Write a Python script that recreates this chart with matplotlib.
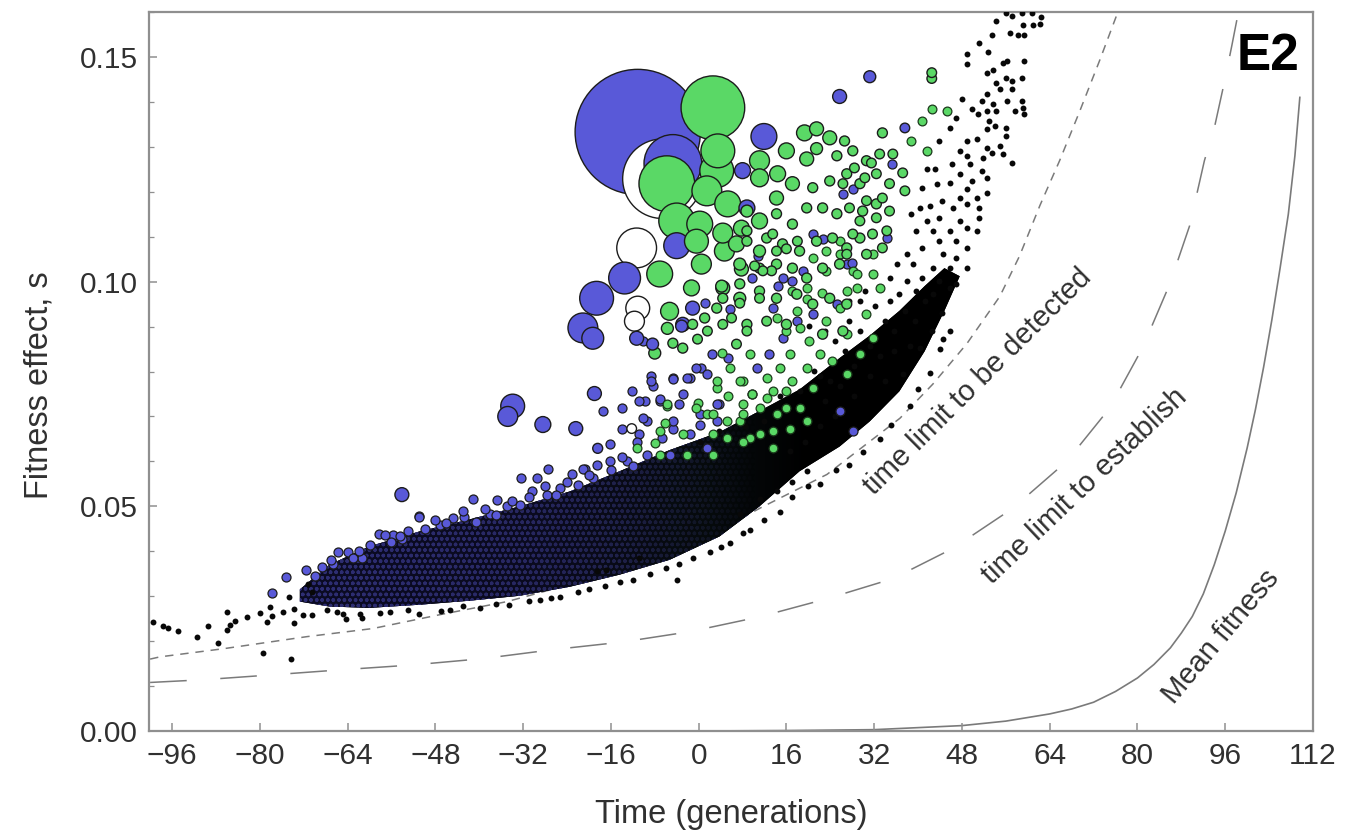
import numpy as np
import matplotlib
matplotlib.use("Agg")
import matplotlib.pyplot as plt

plt.rcParams['font.family'] = ['Liberation Sans', 'DejaVu Sans']
plt.rcParams['hatch.linewidth'] = 1.0

# ---------------- axes ----------------
x_ticks = [-96, -80, -64, -48, -32, -16, 0, 16, 32, 48, 64, 80, 96, 112]
y_ticks = [0.00, 0.05, 0.10, 0.15]
y_tick_labels = ["0.00", "0.05", "0.10", "0.15"]

# ---------------- theory curves (time, fitness effect) ----------------
detect_t = [-100.0, -98.2, -86.7, -71.4, -59.4, -47.1, -34.9, -22.9, -13.1, -1.1, 11.2, 23.4,
            36.7, 42.7, 48.9, 54.9, 58.5, 62.2, 65.8, 69.5, 73.1, 76.4]
detect_s = [0.0160, 0.0165, 0.0183, 0.0210, 0.0228, 0.0259, 0.0288, 0.0328, 0.0355, 0.0415, 0.0496, 0.0571,
            0.0696, 0.0772, 0.0862, 0.0967, 0.1057, 0.1169, 0.1269, 0.1380, 0.1492, 0.1599]

establish_t = [-100.0, -90.4, -77.7, -65.4, -52.1, -39.4, -26.6, -13.9, -1.6, 11.1, 23.3, 35.4,
               46.3, 57.2, 67.1, 74.9, 80.9, 85.9, 89.5, 92.2, 94.1, 95.9, 97.2, 98.4]
establish_s = [0.0108, 0.0114, 0.0125, 0.0136, 0.0147, 0.0161, 0.0181, 0.0198, 0.0221, 0.0254, 0.0294, 0.0339,
               0.0406, 0.0495, 0.0600, 0.0718, 0.0852, 0.0995, 0.1124, 0.1269, 0.1347, 0.1447, 0.1525, 0.1600]

meanfit_t = [0, 16, 32, 48, 56, 64, 68, 72, 76, 80, 83, 86, 88, 90, 92, 94, 96, 98, 100, 101.5, 103,
             104.5, 106, 107.5, 108.7, 109.6]
meanfit_s = [0.0, 0.0001, 0.0003, 0.0012, 0.0022, 0.0038, 0.0049, 0.0064, 0.0088, 0.0118, 0.0148, 0.0185,
             0.0218, 0.0255, 0.0305, 0.0370, 0.0445, 0.0530, 0.0630, 0.0715, 0.0810, 0.0915, 0.1030,
             0.1150, 0.1280, 0.1410]

# ---------------- dense core of the mutation cloud ----------------
core_t = [-72.7, -67.3, -60.0, -50.9, -41.7, -32.6, -23.5, -14.4, -5.3, 3.8, 11.1, 18.4,
          25.7, 31.2, 36.6, 41.2, 44.8, 47.6]
core_lo = [0.0288, 0.0277, 0.0274, 0.0281, 0.0290, 0.0301, 0.0321, 0.0348, 0.0381, 0.0433, 0.0500, 0.0578,
           0.0633, 0.0689, 0.0756, 0.0845, 0.0935, 0.1012]
core_hi = [0.0315, 0.0370, 0.0411, 0.0444, 0.0471, 0.0500, 0.0533, 0.0578, 0.0625, 0.0665, 0.0712, 0.0760,
           0.0830, 0.0880, 0.0935, 0.0990, 0.1030, 0.1012]

# ---------------- lineages: (time, s, size) ----------------
blue_lineages = [
    (-11.1, 0.1333, 3969), (-4.7, 0.1263, 841), (11.9, 0.1323, 169), (25.7, 0.1412, 49),
    (31.2, 0.1456, 36), (-4.0, 0.1080, 169), (-13.5, 0.1008, 256), (-18.6, 0.0963, 289),
    (-21.1, 0.0897, 225), (-19.3, 0.0874, 121), (-33.9, 0.0723, 144), (-34.8, 0.0700, 100),
    (-28.4, 0.0682, 64), (-22.4, 0.0673, 49), (-54.1, 0.0526, 49), (-19.0, 0.0751, 49),
    (-18.4, 0.0629, 25), (8.0, 0.1247, 64), (8.8, 0.1164, 64), (-11.3, 0.0874, 49),
    (-2.9, 0.0905, 49), (-1.1, 0.0941, 49), (-3.1, 0.0901, 36), (-8.4, 0.0861, 36),
    (37.6, 0.1342, 16),
]

blue_small_t = [10.8, 9.8, -10.2, 1.1, 5.7, 14.4, 15.3, 17.1, 19.0, 20.8, 22.6, 13.5, -8.6, -8.4, -4.7,
                -1.6, 0.5, 2.4, 5.3, -9.8, -7.1, -2.9, 0.2, 3.8, -9.5, -4.7, -1.6, 3.3, 9.8, 10.6,
                12.9, 15.3, 17.9, 20.8, 25.2, 27.0, 25.7, 28.1, -10.8,
                -75.3, -71.5, -68.7, -65.8, -64.0, -61.3, -58.2, -55.8, -54.1, -51.0, -49.9, -47.2,
                -44.8, -42.7, -40.5, -38.1, -35.0, -32.6, -30.3, -27.7, -25.3, -23.0, -20.8, -18.6,
                -19.3, -36.8, -41.2, -32.3, -29.5, -27.5, -50.9, -57.2, -54.5, -63.1, -66.7, -77.8,
                -17.5, -12.2, -13.9, -10.8, -8.6, -7.1, -4.7, -2.2, -13.9, -10.2, -21.1, -16.2,
                -11.3, -6.6, -9.5, -13.1, -16.2, -4.7, -3.5, -0.4, 1.5, 3.3, 0.2, -5.3, 1.5,
                35.2, 26.3, 28.1, 27.9, 34.3,
                -70.0, -67.0, -62.0, -60.0, -56.0, -53.0, -48.0, -46.0, -43.0, -39.0, -37.0, -34.0,
                -31.0, -28.0, -26.0, -24.0, -22.0, -20.0, -16.0, -14.0, -12.0]
blue_small_s = [0.1057, 0.1008, 0.0867, 0.0952, 0.0939, 0.0990, 0.1008, 0.1001, 0.1024, 0.1106, 0.1095,
                0.0941, 0.0789, 0.0767, 0.0785, 0.0785, 0.0807, 0.0838, 0.0830, 0.0734, 0.0734, 0.0749,
                0.0705, 0.0727, 0.0689, 0.0673, 0.0660, 0.0689, 0.0749, 0.0807, 0.0838, 0.0874, 0.0912,
                0.0928, 0.0950, 0.1039, 0.0711, 0.0667, 0.0660,
                0.0343, 0.0359, 0.0366, 0.0399, 0.0399, 0.0384, 0.0439, 0.0437, 0.0428, 0.0479, 0.0450,
                0.0459, 0.0473, 0.0477, 0.0466, 0.0482, 0.0500, 0.0504, 0.0533, 0.0526, 0.0540, 0.0571,
                0.0584, 0.0593, 0.0562, 0.0515, 0.0517, 0.0562, 0.0562, 0.0584, 0.0477, 0.0437, 0.0433,
                0.0384, 0.0372, 0.0306,
                0.0711, 0.0756, 0.0718, 0.0734, 0.0778, 0.0738, 0.0783, 0.0785, 0.0673, 0.0696, 0.0584,
                0.0638, 0.0644, 0.0651, 0.0615, 0.0600, 0.0600, 0.0689, 0.0727, 0.0807, 0.0794, 0.0727,
                0.0682, 0.0615, 0.0629,
                0.1262, 0.1195, 0.1206, 0.1041, 0.1097,
                0.0345, 0.0380, 0.0400, 0.0415, 0.0420, 0.0445, 0.0470, 0.0462, 0.0490, 0.0495, 0.0480,
                0.0512, 0.0520, 0.0545, 0.0525, 0.0555, 0.0548, 0.0570, 0.0580, 0.0610, 0.0590]

green_lineages = [
    (2.6, 0.1387, 1024), (-5.8, 0.1218, 784), (3.5, 0.1291, 289), (3.3, 0.1247, 289),
    (1.5, 0.1202, 225), (5.3, 0.1173, 169), (-4.0, 0.1135, 324), (0.2, 0.1128, 169),
    (4.4, 0.1108, 100), (-0.4, 0.1090, 144), (4.7, 0.1068, 100), (0.5, 0.1039, 100),
    (-7.1, 0.1017, 169), (-1.3, 0.0986, 64), (4.4, 0.0986, 49), (-5.3, 0.0934, 81),
    (7.8, 0.1028, 49), (7.5, 0.0963, 36), (7.8, 0.1119, 64), (11.1, 0.1135, 64),
    (11.1, 0.1269, 100), (11.1, 0.1231, 81), (14.4, 0.1240, 64), (16.0, 0.1291, 64),
    (19.3, 0.1331, 64), (21.5, 0.1340, 49), (19.7, 0.1273, 49), (23.9, 0.1320, 49),
    (26.6, 0.1313, 25), (21.5, 0.1296, 36), (25.2, 0.1280, 25), (14.2, 0.1186, 49),
    (8.8, 0.1157, 36), (17.1, 0.1218, 49), (14.2, 0.1151, 25), (12.4, 0.1097, 25),
    (17.1, 0.1128, 25), (19.7, 0.1164, 25), (20.8, 0.1209, 25), (11.1, 0.1068, 36),
    (6.9, 0.1084, 64),
    (4.2, 0.0990, 36), (7.5, 0.1039, 36), (7.5, 0.0995, 25), (4.4, 0.0963, 25),
    (3.3, 0.0941, 25), (1.1, 0.0919, 25), (-1.1, 0.0905, 25), (-5.7, 0.0896, 36),
    (-8.0, 0.0841, 36), (-4.7, 0.0863, 25), (-2.9, 0.0852, 25), (-0.2, 0.0872, 16),
    (1.6, 0.0890, 16), (4.4, 0.0905, 16), (6.0, 0.0919, 16), (7.5, 0.0952, 16),
    (10.2, 0.1035, 16), (11.7, 0.1024, 16), (13.3, 0.1024, 16), (14.2, 0.1068, 16),
    (16.0, 0.1073, 16), (18.0, 0.1090, 9), (13.5, 0.1106, 16), (8.8, 0.1090, 25),
    (8.8, 0.1113, 25), (11.1, 0.0963, 16), (12.4, 0.0912, 16), (8.8, 0.0890, 16),
    (6.9, 0.0861, 16),
    (42.5, 0.1465, 16), (42.5, 0.1452, 16), (33.5, 0.1331, 25), (33.0, 0.1284, 16),
    (35.4, 0.1284, 16), (31.5, 0.1264, 16), (28.4, 0.1253, 16), (26.3, 0.1218, 16),
    (30.3, 0.1231, 16), (32.4, 0.1240, 16), (34.8, 0.1218, 16), (37.2, 0.1242, 16),
    (37.6, 0.1202, 16), (33.5, 0.1186, 16), (30.6, 0.1180, 16), (27.5, 0.1164, 16),
    (29.4, 0.1135, 16), (32.4, 0.1142, 16), (34.8, 0.1157, 16), (28.1, 0.1106, 16),
    (31.7, 0.1106, 16), (34.3, 0.1113, 16), (27.0, 0.1061, 16), (30.6, 0.1061, 16),
    (33.5, 0.1075, 16),
    (28.1, 0.1291, 25), (30.6, 0.1269, 25), (23.9, 0.1224, 25), (27.0, 0.1240, 25),
    (29.4, 0.1218, 25), (22.6, 0.1164, 25), (25.2, 0.1151, 25), (29.9, 0.1157, 25),
    (32.4, 0.1173, 25), (15.3, 0.1084, 25), (18.4, 0.1068, 25), (21.5, 0.1090, 25),
    (24.4, 0.1097, 25), (27.0, 0.1075, 25), (29.4, 0.1097, 25), (11.1, 0.1030, 25),
    (14.2, 0.1039, 25), (17.1, 0.1030, 25), (19.7, 0.1008, 25), (22.6, 0.1030, 25),
    (25.7, 0.1039, 25), (11.1, 0.0979, 25), (14.2, 0.0963, 25), (17.9, 0.0972, 25),
    (20.8, 0.0950, 25), (23.9, 0.0963, 25), (27.0, 0.0950, 25), (8.8, 0.0905, 25),
    (16.0, 0.0905, 25), (22.6, 0.0883, 25), (26.3, 0.0890, 25),
]

green_small_t = [9.3, 4.2, 5.7, 8.0, 3.3, -0.2, 5.3, 1.5, -5.8, -6.2, -8.0, -2.9, 2.6, 7.5, 8.0, 11.1,
                 13.5, 12.4, 14.8, 16.6, 16.0, 18.4, 20.2, 14.2, 17.9, 19.7, 17.0, 19.7, 22.4, 23.3,
                 20.8, 23.3, 25.7, 25.7, 28.1, 28.8, 25.7, 23.3, 27.0, 22.1, 24.4, 19.7, 17.1, 20.8,
                 16.0, 19.7, 13.5, 9.3, 31.7, 33.0, 30.6, 31.7, 29.4, 27.0, 40.7, 45.2, 41.6, 38.8,
                 42.5, 28.8, 31.7, 27.0,
                 -5.8, -7.1, -0.4, 2.6, 5.1, 8.0, 7.5, 9.8, 3.3, -11.3, -7.1, -2.2, 2.6, 8.0, 5.1,
                 11.1, 14.2, 12.4, 16.0, 18.4, 16.6, 13.5]
green_small_s = [0.0838, 0.0841, 0.0807, 0.0778, 0.0763, 0.0729, 0.0745, 0.0705, 0.0723, 0.0685, 0.0640,
                 0.0660, 0.0660, 0.0689, 0.0727, 0.0718, 0.0756, 0.0785, 0.0807, 0.0838, 0.0890, 0.0896,
                 0.0867, 0.0919, 0.0934, 0.0961, 0.0979, 0.0986, 0.0975, 0.1024, 0.1053, 0.1068, 0.1090,
                 0.1061, 0.1024, 0.0986, 0.0941, 0.0912, 0.0883, 0.0838, 0.0823, 0.0807, 0.0778, 0.0763,
                 0.0718, 0.0689, 0.0667, 0.0651, 0.1061, 0.0986, 0.0928, 0.0874, 0.0838, 0.0794, 0.1358,
                 0.1380, 0.1291, 0.1313, 0.1385, 0.1017, 0.1017, 0.0979,
                 0.0727, 0.0667, 0.0718, 0.0705, 0.0689, 0.0705, 0.0778, 0.0749, 0.0778, 0.0629, 0.0615,
                 0.0615, 0.0615, 0.0644, 0.0651, 0.0660, 0.0705, 0.0740, 0.0756, 0.0718, 0.0673, 0.0629]

white_lineages = [
    (-6.6, 0.1229, 1600), (-11.3, 0.1075, 400), (-11.1, 0.0941, 144), (-11.7, 0.0912, 100),
    (-12.2, 0.0673, 9),
]

black_t = [54.3, 56.1, 57.2, 58.9, 60.7, 62.5, 59.1, 60.9, 62.2, 56.7, 58.2, 59.4, 53.4, 51.2, 52.7, 48.9,
           48.9, 55.4, 56.3, 59.4, 52.5, 53.6, 54.3, 56.1, 57.2, 58.9, 54.9, 57.2, 52.5, 48.1, 51.6, 53.6,
           56.3, 58.9, 59.1, 57.6, 49.9, 52.5, 54.3, 50.9, 47.0, 59.4, 53.0, 54.0, 45.8, 56.1, 52.5, 43.9,
           48.9, 50.7, 56.1, 52.5, 54.9, 53.4, 47.6, 55.4, 57.2, 48.9, 51.8, 46.1, 49.4, 51.6, 41.6, 43.0,
           47.6, 49.9, 52.5, 45.8, 43.4, 40.8, 52.5, 48.9, 47.6, 50.7, 44.3, 42.1, 40.3, 38.8, 46.3, 48.9,
           51.2, 51.2, 47.6, 43.9, 41.6, 39.7, 42.7, 45.8, 48.9, 50.7, 43.9, 47.0, 48.9, 40.8, 37.9, 44.5,
           47.0, 42.7, 39.0, 36.1, 45.8, 48.9, 40.8, 43.9, 37.9, 34.8, 47.0, 45.8, 39.7, 42.7, 36.6,
           44.3, 42.5, 44.5, 40.3, 37.2,
           29.4, 32.1, 34.8, 33.9, 35.7, 31.2, 33.0, 35.7, 28.4, 31.2, 33.9, 25.7, 28.4, 23.0, 24.8, 22.1,
           19.3, 16.6, 27.5, 24.8, 22.1, 30.3, 37.6, 39.4, 38.5, 41.2,
           0.2, 3.8, 8.4, 12.0, 14.8, 18.4, 21.1, 23.9, 26.6, 23.0, 20.2, 29.4, 27.5,
           -4.0, -10.8, 7.5, 11.1, 14.2, 17.1, 19.7, -18.6, -16.8,
           -99.5, -97.7, -96.8, -95.0, -91.5, -89.5, -87.7, -86.0, -86.0, -85.5, -84.6, -82.4, -80.0,
           -79.5, -78.6, -78.2, -77.7, -75.8, -74.6, -74.4, -73.8, -73.8, -72.2, -71.3, -70.4, -70.4,
           -67.8, -64.9, -64.2, -61.4,
           -61.8, -56.3, -50.9, -45.4, -39.9, -34.5, -29.0, -25.3, -19.9, -14.4, -8.9, -3.5, 2.0, 5.7,
           9.3, 14.8, 22.1, 27.5, 33.0, 38.5, 42.1, 45.8,
           -66.0, -58.0, -53.0, -47.0, -43.0, -37.0, -31.0, -27.0, -22.0, -17.0, -12.0, -6.0, -1.0,
           4.0, 8.0, 12.0, 17.0, 20.0, 25.0, 30.0, 35.0, 40.0, 44.0]
black_s = [0.1581, 0.1597, 0.1592, 0.1597, 0.1597, 0.1588, 0.1570, 0.1572, 0.1574, 0.1554, 0.1548, 0.1548,
           0.1548, 0.1532, 0.1510, 0.1507, 0.1485, 0.1487, 0.1492, 0.1490, 0.1465, 0.1470, 0.1443, 0.1454,
           0.1447, 0.1454, 0.1429, 0.1429, 0.1418, 0.1407, 0.1403, 0.1396, 0.1403, 0.1403, 0.1387, 0.1380,
           0.1385, 0.1380, 0.1380, 0.1374, 0.1365, 0.1374, 0.1358, 0.1347, 0.1342, 0.1342, 0.1340, 0.1313,
           0.1313, 0.1318, 0.1325, 0.1298, 0.1302, 0.1287, 0.1291, 0.1284, 0.1264, 0.1280, 0.1276, 0.1262,
           0.1262, 0.1247, 0.1251, 0.1251, 0.1240, 0.1224, 0.1231, 0.1220, 0.1218, 0.1209, 0.1198, 0.1206,
           0.1186, 0.1186, 0.1180, 0.1169, 0.1164, 0.1151, 0.1164, 0.1173, 0.1164, 0.1142, 0.1135, 0.1142,
           0.1135, 0.1113, 0.1113, 0.1113, 0.1119, 0.1113, 0.1090, 0.1090, 0.1075, 0.1075, 0.1061, 0.1061,
           0.1053, 0.1030, 0.1039, 0.1039, 0.1030, 0.1030, 0.1008, 0.1001, 0.1001, 0.1008, 0.0995, 0.0986,
           0.0979, 0.0972, 0.0972,
           0.0930, 0.0890, 0.0872, 0.0852, 0.0794,
           0.0957, 0.0946, 0.0957, 0.0912, 0.0890, 0.0856, 0.0834, 0.0845, 0.0812, 0.0789, 0.0778, 0.0767,
           0.0745, 0.0734, 0.0700, 0.0678, 0.0644, 0.0622, 0.0912, 0.0867, 0.0789, 0.0979, 0.0934, 0.0912,
           0.0856, 0.0957,
           0.0644, 0.0667, 0.0678, 0.0689, 0.0745, 0.0756, 0.0801, 0.0778, 0.0845, 0.0890, 0.0901, 0.0890,
           0.0957,
           0.0337, 0.0384, 0.0482, 0.0517, 0.0533, 0.0555, 0.0578, 0.0355, 0.0359,
           0.0243, 0.0234, 0.0230, 0.0223, 0.0210, 0.0234, 0.0196, 0.0265, 0.0225, 0.0236, 0.0245, 0.0254,
           0.0263, 0.0174, 0.0243, 0.0277, 0.0256, 0.0265, 0.0299, 0.0161, 0.0241, 0.0272, 0.0259, 0.0328,
           0.0259, 0.0310, 0.0270, 0.0261, 0.0250, 0.0252,
           0.0261, 0.0265, 0.0261, 0.0270, 0.0274, 0.0281, 0.0292, 0.0299, 0.0315, 0.0332, 0.0350, 0.0372,
           0.0399, 0.0419, 0.0448, 0.0488, 0.0549, 0.0593, 0.0649, 0.0723, 0.0796, 0.0890,
           0.0265, 0.0262, 0.0270, 0.0266, 0.0279, 0.0283, 0.0290, 0.0297, 0.0309, 0.0322, 0.0337, 0.0362,
           0.0385, 0.0410, 0.0440, 0.0470, 0.0520, 0.0545, 0.0580, 0.0620, 0.0680, 0.0760, 0.0850]

curve_labels = ["time limit to be detected", "time limit to establish", "Mean fitness"]
panel_label = "E2"

# ---------------- styling ----------------
BLUE = '#5959d8'
GREEN = '#5ad866'
EDGE = '#1c1c1c'
FRAME = '#8f8f8f'
TEXT = '#303030'
AREA_PER_UNIT = 2.05   # marker area (pt^2) per unit of lineage size
MIN_AREA = 48          # smallest lineage marker area (pt^2)

fig = plt.figure(figsize=(13.56, 8.36), dpi=100)
ax = fig.add_axes([149 / 1356, 1 - 731 / 836, (1313 - 149) / 1356, (731 - 12) / 836])

# ---- dense core of the cloud ----
# black base for the whole core
core_poly = ax.fill_between(core_t, core_lo, core_hi, facecolor='black', edgecolor='none', zorder=1.9)
# packed blue markers in the early part of the core
early = [i for i, t in enumerate(core_t) if t <= 11.1]
ax.fill_between([core_t[i] for i in early], [core_lo[i] for i in early], [core_hi[i] for i in early],
                facecolor='black', edgecolor=(0.40, 0.40, 0.92), linewidth=0, hatch='ooo', zorder=2)
# darkening veil: navy and translucent early, opaque black late
ramp_t = np.linspace(core_t[0], core_t[-1], 256)
veil = np.zeros((1, 256, 4))
veil[0, :, 0] = np.interp(ramp_t, [-73, -30, 0, 20], [0.07, 0.06, 0.03, 0.0])
veil[0, :, 1] = np.interp(ramp_t, [-73, -30, 0, 20], [0.07, 0.06, 0.05, 0.0])
veil[0, :, 2] = np.interp(ramp_t, [-73, -30, 0, 20], [0.22, 0.17, 0.06, 0.0])
veil[0, :, 3] = np.interp(ramp_t, [-73, -40, -15, 0, 10], [0.66, 0.70, 0.78, 0.9, 1.0])
im = ax.imshow(veil, extent=[core_t[0], core_t[-1], min(core_lo), max(core_hi)],
               origin='lower', aspect='auto', interpolation='bilinear', zorder=2.1)
im.set_clip_path(core_poly.get_paths()[0], transform=ax.transData)

# theory curves
ax.plot(detect_t, detect_s, color='#7a7a7a', lw=1.1, dashes=(5.5, 4.5), zorder=1)
ax.plot(establish_t, establish_s, color='#7a7a7a', lw=1.1, dashes=(24, 22), zorder=1)
ax.plot(meanfit_t, meanfit_s, color='#7a7a7a', lw=1.2, zorder=1)

# scattered single mutations
ax.scatter(black_t, black_s, s=18, c='#080808', linewidths=0, zorder=3)
ax.scatter(blue_small_t, blue_small_s, s=42, c=BLUE, edgecolors=EDGE, linewidths=0.9, zorder=4)
ax.scatter(green_small_t, green_small_s, s=40, c=GREEN, edgecolors='#1b3a1b', linewidths=0.9, zorder=4)

# established lineages, largest drawn first
bt, bs, bn, bc = [], [], [], []
for colour, group in ((BLUE, blue_lineages), (GREEN, green_lineages), ('white', white_lineages)):
    for t, s, n in group:
        bt.append(t); bs.append(s); bn.append(n); bc.append(colour)
order = np.argsort(bn, kind='stable')[::-1]
areas = np.maximum(np.array(bn)[order] * AREA_PER_UNIT, MIN_AREA)
ax.scatter(np.array(bt)[order], np.array(bs)[order], s=areas,
           c=[bc[i] for i in order], edgecolors=EDGE, linewidths=1.0, zorder=5)

# curve labels
ax.text(50.9, 0.0778, curve_labels[0], rotation=44.8, ha='center', va='center',
        fontsize=21, color=TEXT, rotation_mode='anchor', zorder=6)
ax.text(70.4, 0.0544, curve_labels[1], rotation=43.5, ha='center', va='center',
        fontsize=21, color=TEXT, rotation_mode='anchor', zorder=6)
ax.text(95.3, 0.0210, curve_labels[2], rotation=50, ha='center', va='center',
        fontsize=21, color=TEXT, rotation_mode='anchor', zorder=6)
ax.text(109.6, 0.150, panel_label, ha='right', va='center', fontsize=37,
        fontweight='bold', color='black', zorder=6)

ax.set_xlim(-100.2, 112)
ax.set_ylim(0, 0.16)
ax.set_xticks(x_ticks)
ax.set_yticks(y_ticks)
ax.set_yticklabels(y_tick_labels)
ax.set_yticks(np.arange(0, 0.161, 0.01), minor=True)
ax.tick_params(axis='both', which='major', direction='in', length=6, width=1.1, color=FRAME,
               labelsize=21.5, labelcolor=TEXT, pad=8)
ax.tick_params(axis='y', which='minor', direction='in', length=3.5, width=0.9, color=FRAME)
for sp in ax.spines.values():
    sp.set_color(FRAME)
    sp.set_linewidth(1.6)

ax.set_xlabel("Time (generations)", fontsize=23.5, color=TEXT)
ax.set_ylabel("Fitness effect, s", fontsize=23.5, color=TEXT)
ax.xaxis.set_label_coords(0.5, -0.0946)
ax.yaxis.set_label_coords(-0.0816, 0.481)

fig.savefig("out.png", dpi=100)
